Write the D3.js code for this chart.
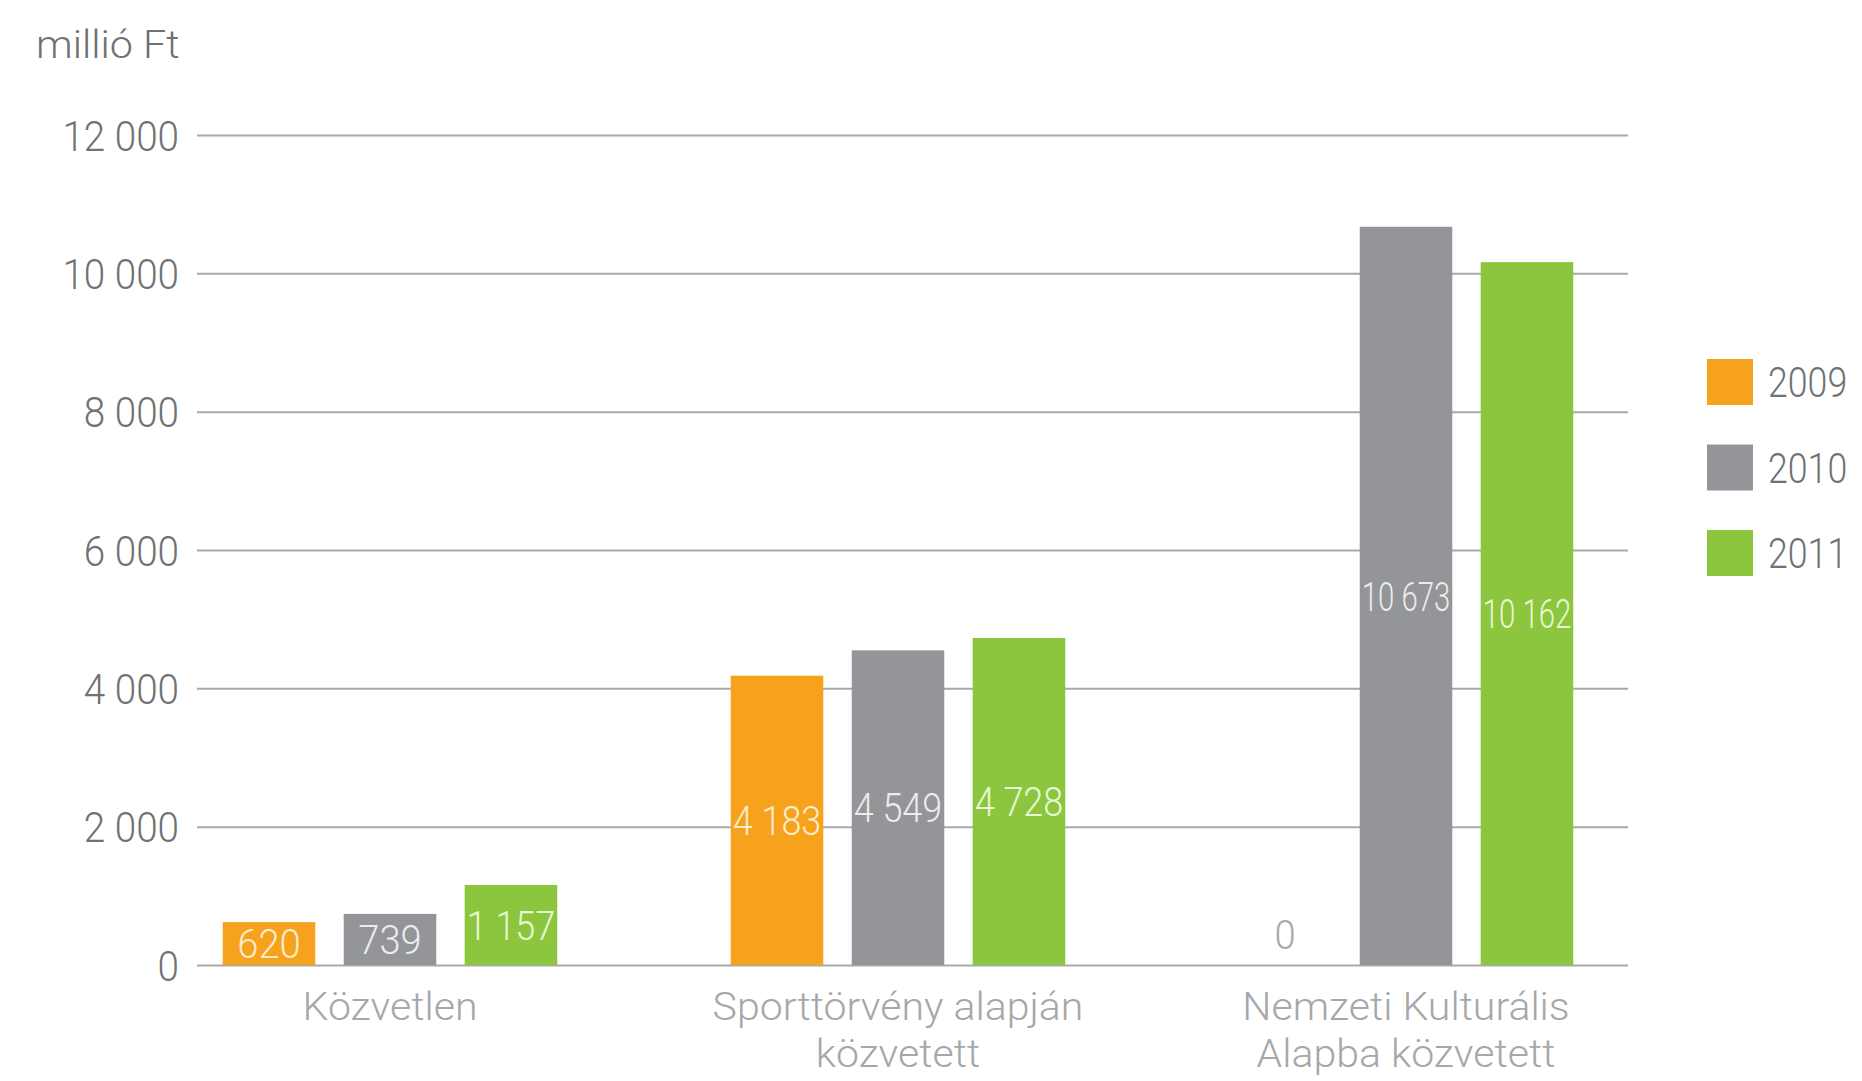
<!DOCTYPE html>
<html>
<head>
<meta charset="utf-8">
<script src="https://cdn.jsdelivr.net/npm/d3@7"></script>
<style>
  html, body { margin: 0; padding: 0; background: #ffffff; }
  svg { display: block; font-family: Roboto, "Open Sans", sans-serif; font-weight: 300; }
</style>
</head>
<body>
<svg id="chart" width="1862" height="1081"></svg>
<script>
// ---- data ----
const categories = ["Közvetlen", "Sporttörvény alapján közvetett", "Nemzeti Kulturális Alapba közvetett"];
const categoryLines = [["Közvetlen"], ["Sporttörvény alapján", "közvetett"], ["Nemzeti Kulturális", "Alapba közvetett"]];
const years = ["2009", "2010", "2011"];
const values2009 = [620, 4183, 0];
const values2010 = [739, 4549, 10673];
const values2011 = [1157, 4728, 10162];
const yTicks = [0, 2000, 4000, 6000, 8000, 10000, 12000];
const unitLabel = "millió Ft";
const colors = ["#f6a21d", "#939598", "#8cc63f"];
const labelColors = ["#fdeccb", "#ececec", "#eaf7d5"];

const series = [values2009, values2010, values2011];

const locale = d3.formatLocale({ decimal: ",", thousands: " ", grouping: [3], currency: ["", " Ft"] });
const fmt = locale.format(",d");

const svg = d3.select("#chart");

function squeeze(sel, k, maxW) {
  sel.each(function () {
    const w = this.getComputedTextLength();
    let t = w * k;
    if (maxW && t > maxW) t = maxW;
    this.setAttribute("textLength", t);
    this.setAttribute("lengthAdjust", "spacingAndGlyphs");
  });
}

// ---- scales ----
const plotLeft = 197, plotRight = 1628;
const y = d3.scaleLinear().domain([0, 12000]).range([965, 135]);
const x0 = d3.scaleBand().domain(categories).range([136, 1660]).paddingInner(0).paddingOuter(0);
const x1 = d3.scaleBand().domain(years).range([0, x0.bandwidth()]).paddingInner(0.235).paddingOuter(0.717);

// ---- grid / y axis ----
const yAxis = d3.axisLeft(y)
  .tickValues(yTicks)
  .tickSize(-(plotRight - plotLeft))
  .tickPadding(18)
  .tickFormat(fmt);

const gy = svg.append("g")
  .attr("transform", `translate(${plotLeft},0)`)
  .call(yAxis);
gy.select(".domain").remove();
gy.selectAll(".tick line").attr("stroke", "#a9a9a9").attr("stroke-width", 2);
gy.selectAll(".tick text")
  .attr("fill", "#707173")
  .style("font-size", "42px")
  .style("font-family", "Roboto, sans-serif")
  .attr("dy", "0.36em");
squeeze(gy.selectAll(".tick text"), 0.92);

// unit label
const ul = svg.append("text")
  .attr("x", 36).attr("y", 58)
  .attr("fill", "#707173")
  .style("font-size", "39px")
  .text(unitLabel);
squeeze(ul, 1.06);

// ---- bars ----
const groups = svg.append("g").selectAll("g")
  .data(categories)
  .join("g")
  .attr("transform", d => `translate(${x0(d)},0)`);

groups.each(function (cat, ci) {
  const g = d3.select(this);
  years.forEach((yr, si) => {
    const v = series[si][ci];
    g.append("rect")
      .attr("x", x1(yr))
      .attr("y", y(v))
      .attr("width", x1.bandwidth())
      .attr("height", y(0) - y(v))
      .attr("fill", colors[si]);
  });
  years.forEach((yr, si) => {
    const v = series[si][ci];
    const h = y(0) - y(v);
    const inside = h > 30;
    const t = g.append("text")
      .attr("x", x1(yr) + x1.bandwidth() / 2)
      .attr("y", inside ? (y(v) + y(0)) / 2 : y(0) - 31)
      .attr("dy", "0.36em")
      .attr("text-anchor", "middle")
      .attr("fill", inside ? labelColors[si] : "#a7a8aa")
      .style("font-size", "41px")
      .text(fmt(v));
    squeeze(t, 0.93, x1.bandwidth() - 4);
  });
});

// ---- category labels ----
categories.forEach((cat, ci) => {
  categoryLines[ci].forEach((line, li) => {
    const t = svg.append("text")
      .attr("x", x0(cat) + x0.bandwidth() / 2)
      .attr("y", 1020 + li * 47)
      .attr("text-anchor", "middle")
      .attr("fill", "#a6a7a9")
      .style("font-size", "38px")
      .text(line);
    squeeze(t, 1.08);
  });
});

// ---- legend ----
const legend = svg.append("g").selectAll("g")
  .data(years)
  .join("g")
  .attr("transform", (d, i) => `translate(1707,${359 + i * 85.5})`);
legend.append("rect")
  .attr("width", 46).attr("height", 46)
  .attr("fill", (d, i) => colors[i]);
const lt = legend.append("text")
  .attr("x", 61).attr("y", 23).attr("dy", "0.36em")
  .attr("fill", "#707173")
  .style("font-size", "43px")
  .text(d => d);
squeeze(lt, 0.83);
</script>
</body>
</html>
